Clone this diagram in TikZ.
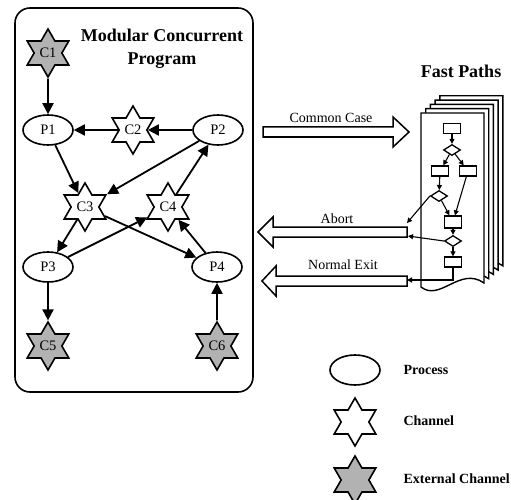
\documentclass[tikz,border=0pt]{standalone}
\usepackage{fontspec}
\setmainfont{Liberation Serif}
\usetikzlibrary{shapes.geometric,arrows.meta}
\begin{document}
\begin{tikzpicture}[x=1pt,y=-1pt,
  lbl/.style={font=\fontsize{14.5}{16}\selectfont},
  proc/.style={ellipse, draw, line width=1.6pt, minimum width=50pt, minimum height=30pt, inner sep=0pt, fill=white, lbl},
  chan/.style={star, star points=6, star point ratio=1.73, draw, line width=1.6pt, minimum size=48pt, inner sep=0pt, fill=white, lbl},
  ext/.style={chan, fill=gray!60},
  edge/.style={line width=1.8pt, -{Triangle[length=11pt,width=11pt]}},
  fbox/.style={draw, line width=1.3pt, minimum width=17pt, minimum height=10pt, inner sep=0pt, fill=white},
  fdia/.style={diamond, draw, line width=1.3pt, minimum width=17pt, minimum height=11pt, inner sep=0pt, fill=white},
  fedge/.style={line width=1.1pt, -{Triangle[length=5pt,width=5pt]}},
  fat/.style={draw, line width=1.5pt, fill=white},
  page/.style={draw, line width=1.4pt, fill=white},
  title/.style={font=\fontsize{18}{23}\selectfont\bfseries, align=center},
  arrlbl/.style={font=\fontsize{14}{16}\selectfont},
  leg/.style={font=\fontsize{14}{16}\selectfont\bfseries, anchor=west}
]
\useasboundingbox (0,0) rectangle (511,500);

% outer box
\draw[line width=1.6pt, rounded corners=15pt] (15,8) rectangle (253,392);
\node[title] (ttl) at (162,49) {Modular Concurrent\\Program};

% nodes
\node[ext]  (C1) at (48,53)   {C1};
\node[proc] (P1) at (48,130)  {P1};
\node[chan] (C2) at (133,130) {C2};
\node[proc] (P2) at (218,130) {P2};
\node[chan] (C3) at (85,207)  {C3};
\node[chan] (C4) at (168,207) {C4};
\node[proc] (P3) at (48,267)  {P3};
\node[proc] (P4) at (217,267) {P4};
\node[ext]  (C5) at (48,346)  {C5};
\node[ext]  (C6) at (217,346) {C6};

\draw[edge] (C1) -- (P1);
\draw[edge] (C2) -- (P1);
\draw[edge] (P2) -- (C2);
\draw[edge] (P1) -- (C3);
\draw[edge] (P2) -- (C3);
\draw[edge] (C4) -- (P2);
\draw[edge] (C3) -- (P3);
\draw[edge] (P3) -- (C4);
\draw[edge] (C3) -- (P4);
\draw[edge] (P4) -- (C4);
\draw[edge] (P3) -- (C5);
\draw[edge] (C6) -- (P4);

% fast paths
\node[title] (fp) at (461,71) {Fast Paths};
\foreach \k in {4,3,2,1,0}{
  \draw[page, shift={(\k*4.7,-\k*4.3)}] (421,113) -- (484,113) -- (484,283)
    .. controls (460,266) and (440,302) .. (421,287) -- cycle;
}

% fat arrows
\draw[fat] (263,127) -- (393,127) -- (393,117) -- (409,132) -- (393,147) -- (393,137) -- (263,137) -- cycle;
\draw[fat] (407,227) -- (273,227) -- (273,217) -- (258,232) -- (273,247) -- (273,237) -- (407,237) -- cycle;
\draw[fat] (407,276) -- (276,276) -- (276,266) -- (262,281) -- (276,296) -- (276,286) -- (407,286) -- cycle;
\node[arrlbl] (lcc) at (331,118) {Common Case};
\node[arrlbl] (lab) at (337,219) {Abort};
\node[arrlbl] (lne) at (343,265) {Normal Exit};
\coordinate (abA) at (407,223);
\coordinate (abB) at (408,236);
\coordinate (neA) at (407,280);

% flowchart
\node[fbox] (b1) at (452,128.5) {};
\node[fdia] (d1) at (452,150) {};
\node[fbox] (b2) at (440,171) {};
\node[fbox] (b3) at (468,171) {};
\node[fdia] (d2) at (439,196) {};
\node[fbox, minimum height=12pt] (b4) at (453,222) {};
\node[fdia] (d3) at (453,241) {};
\node[fbox] (b5) at (453,262) {};
\draw[fedge] (b1) -- (d1);
\draw[fedge] (d1) -- (b2);
\draw[fedge] (d1) -- (b3);
\draw[fedge] (b2) -- (d2);
\draw[fedge] (d2) -- (b4);
\draw[fedge] (b3) -- (b4);
\draw[fedge] (b4) -- (d3);
\draw[fedge] (d3) -- (b5);
\draw[fedge] (d2.west) -- (abA);
\draw[fedge] (d3.west) -- (abB);
\draw[fedge] (b5.south) |- (neA);

% legend
\node[proc] (lp) at (355,370) {};
\node[chan] (lc) at (355,422) {};
\node[ext]  (le) at (355,480) {};
\node[leg] (tp) at (400,370) {Process};
\node[leg] (tc) at (400,421) {Channel};
\node[leg] (te) at (400,479) {External Channel};
\end{tikzpicture}
\end{document}
